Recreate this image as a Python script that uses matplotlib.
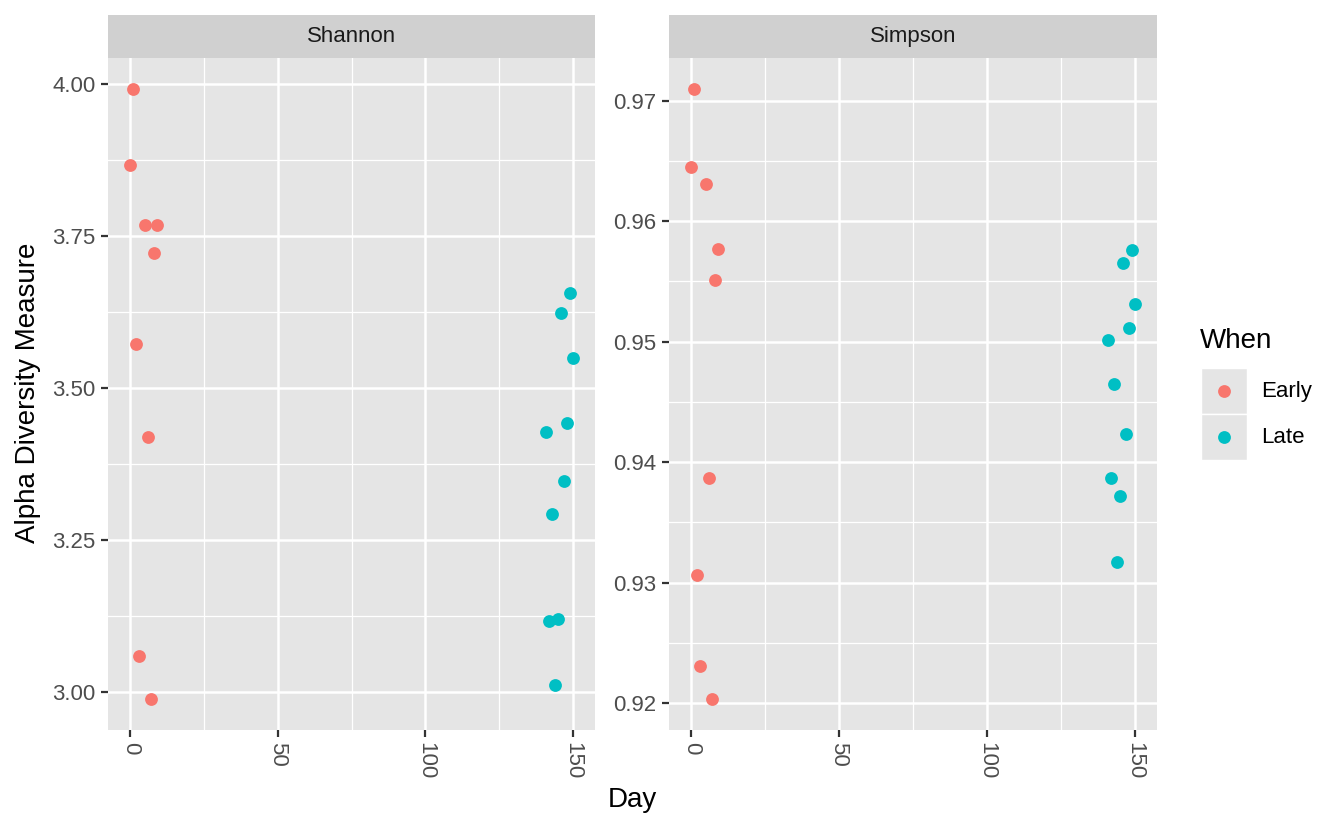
import numpy as np
import matplotlib.pyplot as plt
from matplotlib.patches import Rectangle

plt.rcParams['font.family'] = ['Liberation Sans', 'DejaVu Sans']

# data
early_day = [1, 0, 5, 9, 8, 2, 6, 3, 7]
early_shannon = [3.993, 3.867, 3.768, 3.769, 3.722, 3.572, 3.420, 3.059, 2.988]
early_simpson = [0.9710, 0.9645, 0.9631, 0.9577, 0.9551, 0.9306, 0.9387, 0.9231, 0.9203]

late_day = [149, 146, 150, 148, 141, 147, 143, 142, 145, 144]
late_shannon = [3.657, 3.623, 3.550, 3.442, 3.428, 3.348, 3.293, 3.117, 3.120, 3.012]
late_simpson = [0.9576, 0.9565, 0.9531, 0.9511, 0.9501, 0.9423, 0.9465, 0.9387, 0.9372, 0.9317]

facets = ['Shannon', 'Simpson']
yticks = {'Shannon': [3.00, 3.25, 3.50, 3.75, 4.00],
          'Simpson': [0.92, 0.93, 0.94, 0.95, 0.96, 0.97]}
xticks = [0, 50, 100, 150]

red = '#F8766D'
teal = '#00BFC4'
panel_bg = '#E5E5E5'

W, H = 1344, 830
fig = plt.figure(figsize=(13.44, 8.3), dpi=100)

panels = [(108, 595), (669, 1157)]
ptop, pbot, stop = 58, 730, 15

for (x0, x1), name in zip(panels, facets):
    ax = fig.add_axes([x0 / W, 1 - pbot / H, (x1 - x0) / W, (pbot - ptop) / H])
    ax.set_facecolor(panel_bg)
    for s in ax.spines.values():
        s.set_visible(False)
    if name == 'Shannon':
        ye, yl = early_shannon, late_shannon
    else:
        ye, yl = early_simpson, late_simpson
    allv = ye + yl
    lo, hi = min(allv), max(allv)
    pad = (hi - lo) * 0.05
    ax.set_ylim(lo - pad, hi + pad)
    ax.set_xlim(-7.5, 157.5)
    ax.scatter(early_day, ye, s=85, color=red, zorder=3, linewidths=0)
    ax.scatter(late_day, yl, s=85, color=teal, zorder=3, linewidths=0)

    yt = yticks[name]
    ax.set_yticks(yt)
    ax.set_yticklabels(['{:.2f}'.format(v) for v in yt])
    ax.set_yticks([(a + b) / 2 for a, b in zip(yt[:-1], yt[1:])], minor=True)
    ax.set_xticks(xticks)
    ax.set_xticklabels([str(v) for v in xticks], rotation=270, va='top', ha='center')
    ax.set_xticks([(a + b) / 2 for a, b in zip(xticks[:-1], xticks[1:])], minor=True)
    ax.grid(which='major', color='white', linewidth=1.8)
    ax.grid(which='minor', color='white', linewidth=0.9)
    ax.set_axisbelow(True)
    ax.tick_params(which='major', length=5, width=1.6, color='#333333',
                   labelsize=16, labelcolor='#4D4D4D', pad=4)
    ax.tick_params(which='minor', length=0)

    sax = fig.add_axes([x0 / W, 1 - ptop / H, (x1 - x0) / W, (ptop - stop) / H])
    sax.set_facecolor('#D0D0D0')
    sax.set_xticks([])
    sax.set_yticks([])
    for s in sax.spines.values():
        s.set_visible(False)
    sax.text(0.5, 0.5, name, ha='center', va='center', fontsize=16,
             color='#1A1A1A', transform=sax.transAxes)

fig.text(632 / W, 1 - 800 / H, 'Day', ha='center', va='center', fontsize=20)
fig.text(28 / W, 1 - 393 / H, 'Alpha Diversity Measure', ha='center', va='center',
         rotation=90, fontsize=20)

# legend
fig.text(1200 / W, 1 - 341 / H, 'When', ha='left', va='center', fontsize=20)
lax = fig.add_axes([1201 / W, 1 - 460 / H, 46 / W, 92 / H])
lax.set_xlim(0, 1)
lax.set_ylim(0, 2)
lax.axis('off')
for i, (lab, col) in enumerate([('Early', red), ('Late', teal)]):
    yb = 1 - i
    lax.add_patch(Rectangle((0, yb), 1, 1, facecolor=panel_bg, edgecolor='white', linewidth=1))
    lax.scatter([0.5], [yb + 0.5], s=85, color=col, linewidths=0, zorder=3)
    fig.text(1261 / W, 1 - (391 + 46 * i) / H, lab, ha='left', va='center', fontsize=16)

fig.savefig('out.png', dpi=100)
